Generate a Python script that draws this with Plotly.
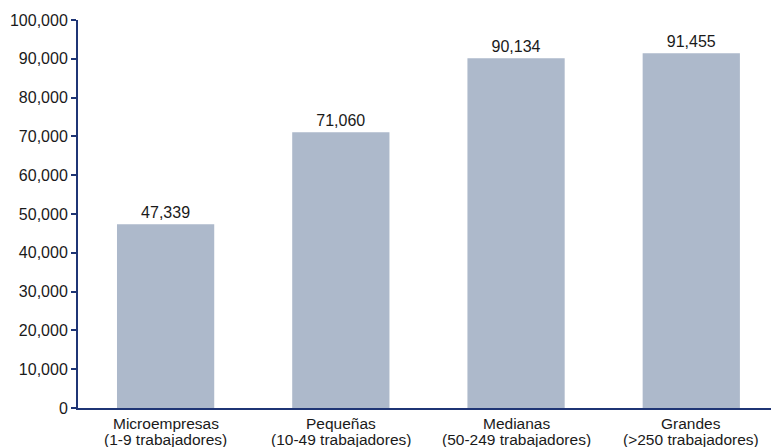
import plotly.graph_objects as go

# Company size groups: name and headcount range
size_names = ["Microempresas", "Pequeñas", "Medianas", "Grandes"]
size_ranges = [
    "(1-9 trabajadores)",
    "(10-49 trabajadores)",
    "(50-249 trabajadores)",
    "(>250 trabajadores)",
]
values = [47339, 71060, 90134, 91455]
y_ticks = list(range(0, 100001, 10000))

font_family = "Arial, Liberation Sans, sans-serif"
text_color = "#1a1a1a"
axis_color = "#1F3575"
positions = list(range(len(size_names)))

fig = go.Figure(
    go.Bar(
        x=positions,
        y=values,
        width=0.555,
        marker=dict(color="#ADB9CB", line=dict(width=0)),
        text=[f"{v:,}" for v in values],
        textposition="outside",
        textfont=dict(family=font_family, size=16, color=text_color),
        cliponaxis=False,
    )
)

# Two-line category labels with tight line spacing
for pos, name, rng in zip(positions, size_names, size_ranges):
    for line, shift in ((name, -15), (rng, -31)):
        fig.add_annotation(
            x=pos, xref="x", y=0, yref="paper",
            text=line, showarrow=False,
            xanchor="center", yanchor="middle", yshift=shift,
            borderpad=0,
            font=dict(family=font_family, size=15.5, color=text_color),
        )

fig.update_layout(
    width=771,
    height=447,
    margin=dict(l=78, r=0, t=20, b=39),
    paper_bgcolor="white",
    plot_bgcolor="white",
    showlegend=False,
    font=dict(family=font_family, size=16, color=text_color),
)

fig.update_xaxes(
    range=[-0.5, 3.455],
    showticklabels=False,
    showline=True,
    linecolor=axis_color,
    linewidth=2,
    ticks="",
    showgrid=False,
    zeroline=False,
)

fig.update_yaxes(
    range=[0, 100000],
    tickvals=y_ticks,
    ticktext=[f"{v:,}" for v in y_ticks],
    showline=True,
    linecolor=axis_color,
    linewidth=2,
    ticks="outside",
    ticklen=5,
    tickcolor=axis_color,
    tickwidth=2,
    showgrid=False,
    zeroline=False,
    tickfont=dict(family=font_family, size=16, color=text_color),
)

fig.write_html("out.html")
